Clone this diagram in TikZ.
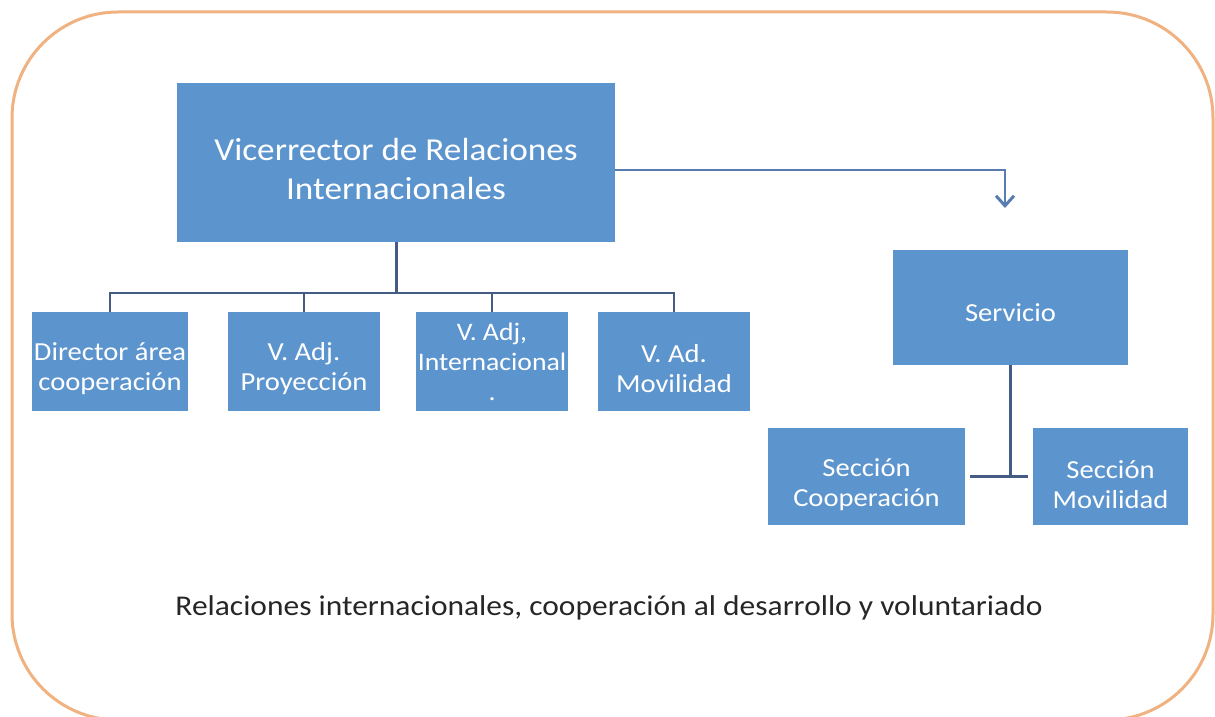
\documentclass[tikz,border=0pt]{standalone}
\usepackage{fontspec}
\setmainfont[FakeStretch=1.1]{Carlito}
\usetikzlibrary{arrows.meta}
\definecolor{boxblue}{RGB}{92,148,206}
\definecolor{linedark}{RGB}{68,92,132}
\definecolor{arrowblue}{RGB}{88,124,176}
\definecolor{frameorange}{RGB}{240,178,128}
\newcommand{\topgap}[1]{\rule{0pt}{#1}}
\tikzset{
  box/.style={fill=boxblue, draw=none, text=white, align=center, inner sep=1pt},
  smalltext/.style={font=\fontsize{13}{15}\selectfont},
  conn/.style={draw=linedark, line width=1.3pt},
  arrowconn/.style={draw=arrowblue, line width=1.1pt, -{Straight Barb[length=5pt,width=9pt,line width=1.5pt]}},
}
\begin{document}
\begin{tikzpicture}[x=0.5pt,y=-0.5pt]
\useasboundingbox (0,0) rectangle (1215,717);
\draw[frameorange, line width=1.5pt, rounded corners=53pt] (12,12) rectangle (1213,720);

\node[box, minimum width=219pt, minimum height=79.5pt, font=\fontsize{16}{19.5}\selectfont] (main) at (396,162.5) {\topgap{17.5pt}Vicerrector de Relaciones\\Internacionales};

\node[box, smalltext, minimum width=77pt, minimum height=49.5pt] (d1) at (110,361.5) {\topgap{16pt}Director área\\cooperación};
\node[box, smalltext, minimum width=76pt, minimum height=49.5pt] (d2) at (304,361.5) {\topgap{16pt}V. Adj.\\Proyección};
\node[box, font=\fontsize{12.6}{15}\selectfont, inner xsep=0pt, minimum width=76pt, minimum height=49.5pt] (d3) at (492,361.5) {V. Adj,\\Internacional\\.};
\node[box, smalltext, minimum width=76pt, minimum height=49.5pt] (d4) at (674,361.5) {\topgap{16pt}V. Ad.\\Movilidad};

\node[box, smalltext, minimum width=117.5pt, minimum height=57.5pt] (serv) at (1010.5,307.5) {\topgap{14pt}Servicio};
\node[box, smalltext, minimum width=98.5pt, minimum height=48.5pt] (coop) at (866.5,476.5) {\topgap{17pt}Sección\\Cooperación};
\node[box, smalltext, minimum width=77.5pt, minimum height=48.5pt] (mov) at (1110.5,476.5) {\topgap{17pt}Sección\\Movilidad};

\node[font=\fontsize{14.3}{17}\selectfont, text=black!85] (cap) at (609,608) {Relaciones internacionales, cooperación al desarrollo y voluntariado};

\coordinate (j) at (396,293);
\coordinate (ae) at (1005,208);
\draw[conn, line width=1.5pt] (main.south) -- (j);
\draw[conn] (d1.north) |- (j);
\draw[conn] (d2.north) |- (j);
\draw[conn] (d3.north) |- (j);
\draw[conn] (d4.north) |- (j);

\draw[arrowconn] (main.east) ++(0,7.5) -| (ae);

\draw[conn, line width=1.5pt] (serv.south) -- (serv.south |- coop.east);
\draw[conn, line width=1.5pt, shorten <=2.5pt, shorten >=2.5pt] (coop.east) -- (mov.west);
\end{tikzpicture}
\end{document}
